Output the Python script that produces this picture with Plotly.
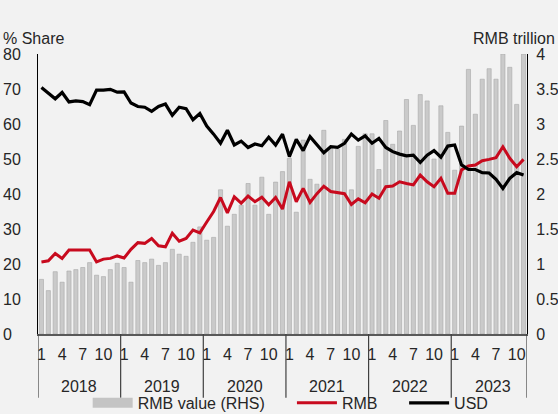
import plotly.graph_objects as go

# ---- data ----
year_list = [2018, 2019, 2020, 2021, 2022, 2023]
months_per_year = [12, 12, 12, 12, 12, 11]
tick_months = [1, 4, 7, 10]

rmb_value = [  # RMB trillion (RHS)
    0.78, 0.62, 0.89, 0.74, 0.90, 0.92, 0.95, 1.02, 0.84, 0.82, 0.92, 1.01,
    0.95, 0.74, 1.05, 1.02, 1.07, 0.98, 1.02, 1.21, 1.14, 1.11, 1.31, 1.53,
    1.34, 1.38, 2.06, 1.54, 1.71, 1.84, 2.15, 1.84, 2.24, 1.71, 2.17, 2.32,
    2.51, 1.74, 2.77, 2.21, 2.14, 2.91, 2.66, 2.64, 2.78, 2.06, 2.68, 2.86,
    2.86, 2.35, 3.05, 2.71, 2.90, 3.35, 2.98, 3.42, 3.33, 2.50, 3.26, 2.88,
    2.34, 2.97, 3.78, 3.14, 3.64, 3.79, 3.64, 4.00, 3.81, 3.28, 4.00,
]
rmb_share = [
    20.6, 20.9, 23.0, 21.6, 24.0, 24.0, 23.9, 24.0, 20.6, 21.4, 21.6, 22.3,
    21.7, 24.2, 26.1, 25.9, 27.3, 25.2, 24.9, 28.8, 26.5, 27.3, 29.7, 28.9,
    32.0, 35.0, 39.0, 34.6, 39.2, 37.4, 39.4, 37.8, 39.1, 36.9, 39.0, 35.7,
    43.5, 37.8, 41.6, 37.6, 40.1, 42.2, 40.7, 40.4, 40.1, 37.0, 38.6, 37.5,
    40.0, 38.8, 42.1, 42.3, 43.5, 43.0, 42.6, 45.4, 43.5, 42.1, 44.5, 40.2,
    40.2, 46.9, 48.0, 48.3, 49.5, 49.9, 50.4, 53.5, 50.2, 47.8, 49.9,
]
usd_share = [
    70.4, 68.8, 67.2, 69.0, 66.3, 66.6, 66.4, 65.5, 69.7, 69.7, 69.9, 69.1,
    69.2, 66.0, 65.0, 64.8, 63.6, 65.0, 65.7, 62.5, 64.8, 64.4, 61.2, 63.0,
    59.4, 57.1, 54.5, 58.2, 54.0, 55.1, 53.3, 54.3, 53.8, 56.2, 54.0, 57.1,
    50.7, 55.6, 52.4, 56.4, 54.2, 51.8, 53.5, 53.3, 54.5, 57.1, 55.4, 56.6,
    54.5, 55.9, 53.3, 52.1, 51.4, 50.9, 51.1, 49.0, 51.1, 52.4, 50.5, 53.7,
    54.0, 48.3, 47.0, 47.0, 46.1, 46.0, 44.2, 41.6, 44.5, 46.1, 45.4,
]
left_ticks = [0, 10, 20, 30, 40, 50, 60, 70, 80]
right_ticks = [0, 0.5, 1, 1.5, 2, 2.5, 3, 3.5, 4]

# ---- derived categories ----
month_of = []
year_start = []
for y, n in zip(year_list, months_per_year):
    year_start.append(len(month_of))
    month_of += list(range(1, n + 1))
x = list(range(len(month_of)))
tickvals = [i for i, m in zip(x, month_of) if m in tick_months]
ticktext = [str(month_of[i]) for i in tickvals]

FONT = "Liberation Sans, Arial, sans-serif"
TXT = "#262626"
BG = "#f2f2f2"
FS = 16
BAR_FILL = "#cacaca"

fig = go.Figure()
fig.add_trace(go.Bar(
    x=x, y=rmb_value, name="RMB value (RHS)", yaxis="y", showlegend=False,
    legendgroup="bars",
    marker=dict(color=BAR_FILL, line=dict(color="#a8a8a8", width=0.6)),
    width=0.6,
))
# legend swatch for the bars (wide grey block, as in the original legend)
fig.add_trace(go.Scatter(
    x=[None], y=[None], name="RMB value (RHS)", yaxis="y", mode="lines",
    legendgroup="bars", legend="legend",
    line=dict(color="#c4c4c4", width=10),
))
fig.add_trace(go.Scatter(
    x=x, y=rmb_share, name="RMB", yaxis="y2", mode="lines", legend="legend2",
    line=dict(color="#c80a1e", width=3),
))
fig.add_trace(go.Scatter(
    x=x, y=usd_share, name="USD", yaxis="y2", mode="lines", legend="legend3",
    line=dict(color="#000000", width=3.2),
))

shapes = []
bounds = year_start + [len(x)]
for b in bounds:
    shapes.append(dict(type="line", xref="x", yref="paper",
                       x0=b - 0.5, x1=b - 0.5, y0=0, y1=-0.228,
                       line=dict(color="#404040", width=1.2)))

annotations = []
for y, s in zip(year_list, year_start):
    annotations.append(dict(text=str(y), xref="x", yref="paper", x=s + 5.5,
                            y=-0.186, showarrow=False, yanchor="middle",
                            font=dict(size=FS, color=TXT, family=FONT)))
for v in left_ticks:
    annotations.append(dict(text=str(v), xref="paper", yref="y2", x=0, y=v,
                            xshift=-37.5, xanchor="left", yanchor="middle",
                            showarrow=False,
                            font=dict(size=FS, color=TXT, family=FONT)))
annotations.append(dict(text="% Share", xref="paper", yref="paper", x=0, xshift=-37.5,
                        y=1.0, yshift=16, xanchor="left", yanchor="middle",
                        showarrow=False, font=dict(size=FS, color=TXT, family=FONT)))
annotations.append(dict(text="RMB trillion", xref="paper", yref="paper", x=1, xshift=30,
                        y=1.0, yshift=16, xanchor="right", yanchor="middle",
                        showarrow=False, font=dict(size=FS, color=TXT, family=FONT)))

leg_common = dict(orientation="h", y=-0.246, yanchor="middle", xanchor="left",
                  font=dict(size=FS, color=TXT, family=FONT),
                  bgcolor="rgba(0,0,0,0)", itemwidth=40)

fig.update_layout(
    width=558, height=414,
    margin=dict(l=38, r=31, t=54, b=80, autoexpand=False),
    paper_bgcolor=BG, plot_bgcolor=BG,
    font=dict(family=FONT, size=FS, color=TXT),
    bargap=0.4,
    showlegend=True,
    legend=dict(x=0.1016, **leg_common),
    legend2=dict(x=0.5193, **leg_common),
    legend3=dict(x=0.7487, **leg_common),
    xaxis=dict(range=[-0.5, len(x) - 0.5], tickvals=tickvals, ticktext=ticktext,
               showgrid=False, zeroline=False, showline=True, linecolor="#595959",
               linewidth=2, ticks="", ticklabelstandoff=5, tickangle=0,
               automargin=False, tickfont=dict(size=FS, color=TXT)),
    yaxis=dict(range=[0, 4], side="right", tickvals=right_ticks, showgrid=False,
               zeroline=False, showline=True, linecolor="#000000", linewidth=1.3,
               automargin=False,
               ticks="", ticklabelstandoff=5, tickfont=dict(size=FS, color=TXT)),
    yaxis2=dict(range=[0, 80], overlaying="y", side="left", tickvals=left_ticks,
                showticklabels=False, showgrid=False, zeroline=False, showline=True,
                automargin=False,
                linecolor="#000000", linewidth=1.3, ticks=""),
    shapes=shapes,
    annotations=annotations,
)

fig.write_html(
    "out.html",
    config={"displayModeBar": False},
    post_script="document.body.style.margin='0';document.body.style.padding='0';"
                "document.body.style.overflow='hidden';",
)
